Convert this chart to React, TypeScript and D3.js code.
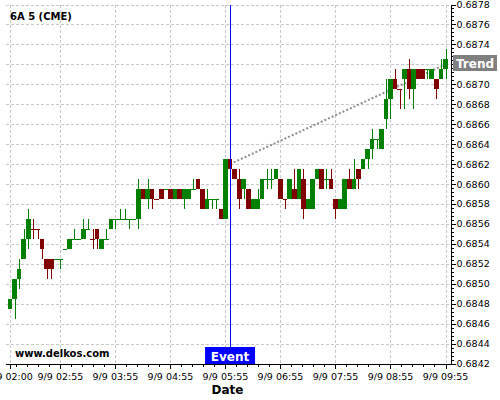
import React from 'react';
import * as d3 from 'd3';

// 5-minute candles, 9/9 02:00 .. 09:55
const startLabel = '02:00';
const opens = [
  0.68475, 0.68485, 0.68505, 0.68525, 0.68545, 0.68555, 0.68555, 0.68545, 0.68525, 0.68525,
  0.68525, 0.68525, 0.68535, 0.68535, 0.68545, 0.68545, 0.68545, 0.68555, 0.68545, 0.68555,
  0.68535, 0.68545, 0.68555, 0.68565, 0.68565, 0.68565, 0.68565, 0.68565, 0.68565, 0.68595,
  0.68585, 0.68595, 0.68585, 0.68595, 0.68595, 0.68595, 0.68585, 0.68595, 0.68585, 0.68585,
  0.68595, 0.68605, 0.68595, 0.68575, 0.68585, 0.68585, 0.68575, 0.68565, 0.68625, 0.68615,
  0.68605, 0.68595, 0.68595, 0.68575, 0.68575, 0.68585, 0.68605, 0.68605, 0.68605, 0.68605,
  0.68585, 0.68585, 0.68595, 0.68585, 0.68605, 0.68575, 0.68575, 0.68605, 0.68615, 0.68605,
  0.68605, 0.68585, 0.68575, 0.68575, 0.68605, 0.68595, 0.68615, 0.68615, 0.68625, 0.68635,
  0.68645, 0.68635, 0.68665, 0.68685, 0.68705, 0.68695, 0.68705, 0.68715, 0.68695, 0.68715,
  0.68715, 0.68715, 0.68705, 0.68705, 0.68705, 0.68715,
];
const highs = [
  0.68485, 0.68505, 0.68525, 0.68555, 0.68575, 0.68565, 0.68555, 0.68545, 0.68525, 0.68525,
  0.68525, 0.68525, 0.68535, 0.68545, 0.68555, 0.68545, 0.68565, 0.68565, 0.68555, 0.68555,
  0.68545, 0.68555, 0.68565, 0.68565, 0.68575, 0.68575, 0.68565, 0.68565, 0.68605, 0.68595,
  0.68605, 0.68595, 0.68585, 0.68595, 0.68595, 0.68595, 0.68595, 0.68595, 0.68595, 0.68595,
  0.68605, 0.68605, 0.68595, 0.68595, 0.68585, 0.68585, 0.68575, 0.68625, 0.68625, 0.68615,
  0.68615, 0.68605, 0.68595, 0.68585, 0.68595, 0.68605, 0.68615, 0.68615, 0.68615, 0.68605,
  0.68585, 0.68605, 0.68615, 0.68615, 0.68615, 0.68585, 0.68605, 0.68615, 0.68615, 0.68615,
  0.68615, 0.68585, 0.68585, 0.68605, 0.68615, 0.68625, 0.68615, 0.68625, 0.68635, 0.68655,
  0.68645, 0.68655, 0.68705, 0.68705, 0.68715, 0.68695, 0.68715, 0.68725, 0.68715, 0.68715,
  0.68715, 0.68715, 0.68715, 0.68705, 0.68725, 0.68735,
];
const lows = [
  0.68475, 0.68465, 0.68495, 0.68525, 0.68535, 0.68545, 0.68545, 0.68525, 0.68505, 0.68505,
  0.68525, 0.68515, 0.68535, 0.68535, 0.68545, 0.68545, 0.68545, 0.68555, 0.68535, 0.68535,
  0.68535, 0.68545, 0.68555, 0.68555, 0.68565, 0.68565, 0.68555, 0.68565, 0.68555, 0.68585,
  0.68575, 0.68575, 0.68585, 0.68585, 0.68595, 0.68585, 0.68585, 0.68585, 0.68575, 0.68585,
  0.68595, 0.68595, 0.68575, 0.68575, 0.68575, 0.68575, 0.68565, 0.68565, 0.68615, 0.68605,
  0.68575, 0.68585, 0.68575, 0.68575, 0.68575, 0.68585, 0.68595, 0.68595, 0.68605, 0.68585,
  0.68575, 0.68585, 0.68585, 0.68585, 0.68565, 0.68575, 0.68575, 0.68605, 0.68595, 0.68595,
  0.68595, 0.68565, 0.68575, 0.68575, 0.68595, 0.68595, 0.68595, 0.68615, 0.68615, 0.68625,
  0.68635, 0.68635, 0.68655, 0.68665, 0.68695, 0.68675, 0.68675, 0.68685, 0.68675, 0.68705,
  0.68705, 0.68705, 0.68705, 0.68685, 0.68705, 0.68705,
];
const closes = [
  0.68485, 0.68505, 0.68515, 0.68545, 0.68565, 0.68555, 0.68555, 0.68535, 0.68515, 0.68515,
  0.68525, 0.68525, 0.68535, 0.68545, 0.68545, 0.68545, 0.68555, 0.68555, 0.68545, 0.68545,
  0.68545, 0.68545, 0.68565, 0.68565, 0.68565, 0.68565, 0.68565, 0.68565, 0.68595, 0.68585,
  0.68595, 0.68585, 0.68585, 0.68585, 0.68595, 0.68585, 0.68595, 0.68585, 0.68595, 0.68595,
  0.68595, 0.68595, 0.68575, 0.68585, 0.68585, 0.68585, 0.68565, 0.68625, 0.68615, 0.68605,
  0.68585, 0.68605, 0.68575, 0.68585, 0.68585, 0.68605, 0.68605, 0.68605, 0.68615, 0.68585,
  0.68585, 0.68605, 0.68585, 0.68615, 0.68575, 0.68585, 0.68605, 0.68615, 0.68595, 0.68605,
  0.68595, 0.68575, 0.68585, 0.68605, 0.68595, 0.68605, 0.68605, 0.68625, 0.68635, 0.68645,
  0.68645, 0.68655, 0.68685, 0.68705, 0.68695, 0.68695, 0.68715, 0.68695, 0.68715, 0.68705,
  0.68705, 0.68715, 0.68715, 0.68695, 0.68715, 0.68725,
];

const xTickLabels = ['02:00', '02:55', '03:55', '04:55', '05:55', '06:55', '07:55', '08:55', '09:55'];
const yTickLabels = [
  '0.6842', '0.6844', '0.6846', '0.6848', '0.6850', '0.6852', '0.6854', '0.6856', '0.6858',
  '0.6860', '0.6862', '0.6864', '0.6866', '0.6868', '0.6870', '0.6872', '0.6874', '0.6876', '0.6878',
];
const eventIndex = 48;
const trendStart = { index: 48, price: 0.6862 };
const trendEnd = { index: 95, price: 0.6872 };

const FONT = 'DejaVu Sans, Verdana, sans-serif';
const toTime = (hm: string) => {
  const [h, m] = hm.split(':').map(Number);
  return new Date(Date.UTC(2024, 8, 9, h, m));
};
const t0 = toTime(startLabel);
const timeAt = (i: number) => new Date(t0.getTime() + i * 5 * 60000);

export default function App() {
  const W = 500, H = 400;
  const plotL = 6, plotR = 451.5, plotT = 4.5, plotB = 364;
  const xTicks = xTickLabels.map(toTime);
  const x = d3.scaleUtc().domain([xTicks[0], xTicks[xTicks.length - 1]]).range([10, 445.5]);
  const yTicks = yTickLabels.map(Number);
  const y = d3.scaleLinear().domain([yTicks[0], yTicks[yTicks.length - 1]]).range([363.5, 4.5]);
  const fmt = d3.utcFormat('%-m/%-d %H:%M');

  // minor x ticks every 12 minutes anchored on 02:55
  const minorX: Date[] = [];
  const anchor = xTicks[1].getTime();
  const dMin = x.invert(plotL).getTime();
  const dMax = x.invert(plotR).getTime();
  for (let t = anchor - Math.floor((anchor - dMin) / 720000) * 720000; t <= dMax; t += 720000) {
    if (!xTicks.some((d) => Math.abs(d.getTime() - t) < 1000)) minorX.push(new Date(t));
  }
  // minor y ticks every 0.00004
  const minorY: number[] = [];
  for (let i = 0; i < yTicks.length - 1; i++) {
    for (let k = 1; k < 5; k++) minorY.push(yTicks[i] + (k * (yTicks[i + 1] - yTicks[i])) / 5);
  }

  // candle colours: up/down, ties follow previous close, then previous colour
  const colors: string[] = [];
  closes.forEach((c, i) => {
    const o = opens[i];
    let up: boolean;
    if (c > o + 1e-9) up = true;
    else if (c < o - 1e-9) up = false;
    else if (i > 0 && c > closes[i - 1] + 1e-9) up = true;
    else if (i > 0 && c < closes[i - 1] - 1e-9) up = false;
    else up = i > 0 ? colors[i - 1] === '#008000' : true;
    colors.push(up ? '#008000' : '#800000');
  });

  const bw = 4.6;
  const ex = x(timeAt(eventIndex));
  const trendLine = d3.line<{ index: number; price: number }>()
    .x((d) => x(timeAt(d.index)))
    .y((d) => y(d.price));

  return (
    <svg width={W} height={H} style={{ position: 'absolute', left: 0, top: 0, background: '#fff' }}
      fontFamily={FONT}>
      <rect x={0} y={0} width={W} height={H} fill="#fff" />
      {/* grid */}
      <g stroke="#c8c8c8" strokeWidth={1} strokeDasharray="3 2" shapeRendering="crispEdges">
        {yTicks.slice(1).map((v, i) => (
          <line key={'gy' + i} x1={plotL} x2={plotR} y1={Math.round(y(v)) + 0.5} y2={Math.round(y(v)) + 0.5} />
        ))}
        {xTicks.map((t, i) => (
          <line key={'gx' + i} x1={Math.round(x(t)) + 0.5} x2={Math.round(x(t)) + 0.5} y1={plotT} y2={plotB} />
        ))}
      </g>

      {/* title & watermark */}
      <text x={10} y={20} fontSize={10} fontWeight="bold" fill="#000">6A 5 (CME)</text>
      <text x={15} y={357} fontSize={10} fontWeight="bold" fill="#000">www.delkos.com</text>

      {/* trend */}
      <path d={trendLine([trendStart, trendEnd]) || ''} fill="none" stroke="#8c8c8c" strokeWidth={2}
        strokeDasharray="2 2" />

      {/* candles */}
      <g shapeRendering="crispEdges">
        {closes.map((c, i) => {
          const o = opens[i];
          const cx = Math.round(x(timeAt(i))) + 0.5;
          const top = y(Math.max(o, c));
          const bot = y(Math.min(o, c));
          return (
            <g key={'c' + i}>
              <line x1={cx} x2={cx} y1={y(highs[i])} y2={y(lows[i])} stroke={colors[i]} strokeWidth={1} />
              <rect x={x(timeAt(i)) - bw / 2} y={top} width={bw} height={Math.max(1, bot - top)} fill={colors[i]} />
            </g>
          );
        })}
      </g>

      {/* event */}
      <line x1={Math.round(ex) + 0.5} x2={Math.round(ex) + 0.5} y1={plotT} y2={347} stroke="#0000ff" strokeWidth={1}
        shapeRendering="crispEdges" />
      <rect x={ex - 25} y={347} width={50} height={17} fill="#0000ff" />
      <text x={ex} y={360.5} fontSize={12} fontWeight="bold" fill="#fff" textAnchor="middle">Event</text>

      {/* axes */}
      <g stroke="#000" strokeWidth={1} shapeRendering="crispEdges">
        <line x1={plotL} x2={plotR + 0.5} y1={364.5} y2={364.5} />
        <line x1={451.5} x2={451.5} y1={plotT} y2={364.5} />
        {xTicks.map((t, i) => (
          <line key={'xt' + i} x1={Math.round(x(t)) + 0.5} x2={Math.round(x(t)) + 0.5} y1={364.5} y2={369} />
        ))}
        {minorX.map((t, i) => (
          <line key={'xm' + i} x1={Math.round(x(t)) + 0.5} x2={Math.round(x(t)) + 0.5} y1={364.5} y2={367} />
        ))}
        {yTicks.map((v, i) => (
          <line key={'yt' + i} x1={451.5} x2={456} y1={Math.round(y(v)) + 0.5} y2={Math.round(y(v)) + 0.5} />
        ))}
        {minorY.map((v, i) => (
          <line key={'ym' + i} x1={451.5} x2={454} y1={Math.round(y(v)) + 0.5} y2={Math.round(y(v)) + 0.5} />
        ))}
      </g>
      {xTicks.map((t, i) => (
        <text key={'xl' + i} x={x(t)} y={379.5} fontSize={9.5} textAnchor="middle" fill="#000">{fmt(t)}</text>
      ))}
      {yTickLabels.map((s, i) => (
        <text key={'yl' + i} x={456.5} y={y(yTicks[i]) + 3.5} fontSize={9.5} fill="#000">{s}</text>
      ))}
      <text x={227.5} y={394} fontSize={12} fontWeight="bold" textAnchor="middle" fill="#000">Date</text>

      {/* trend label */}
      <rect x={453} y={55} width={44} height={16} fill="#808080" />
      <text x={475} y={68} fontSize={12} fontWeight="bold" fill="#fff" textAnchor="middle">Trend</text>
    </svg>
  );
}
